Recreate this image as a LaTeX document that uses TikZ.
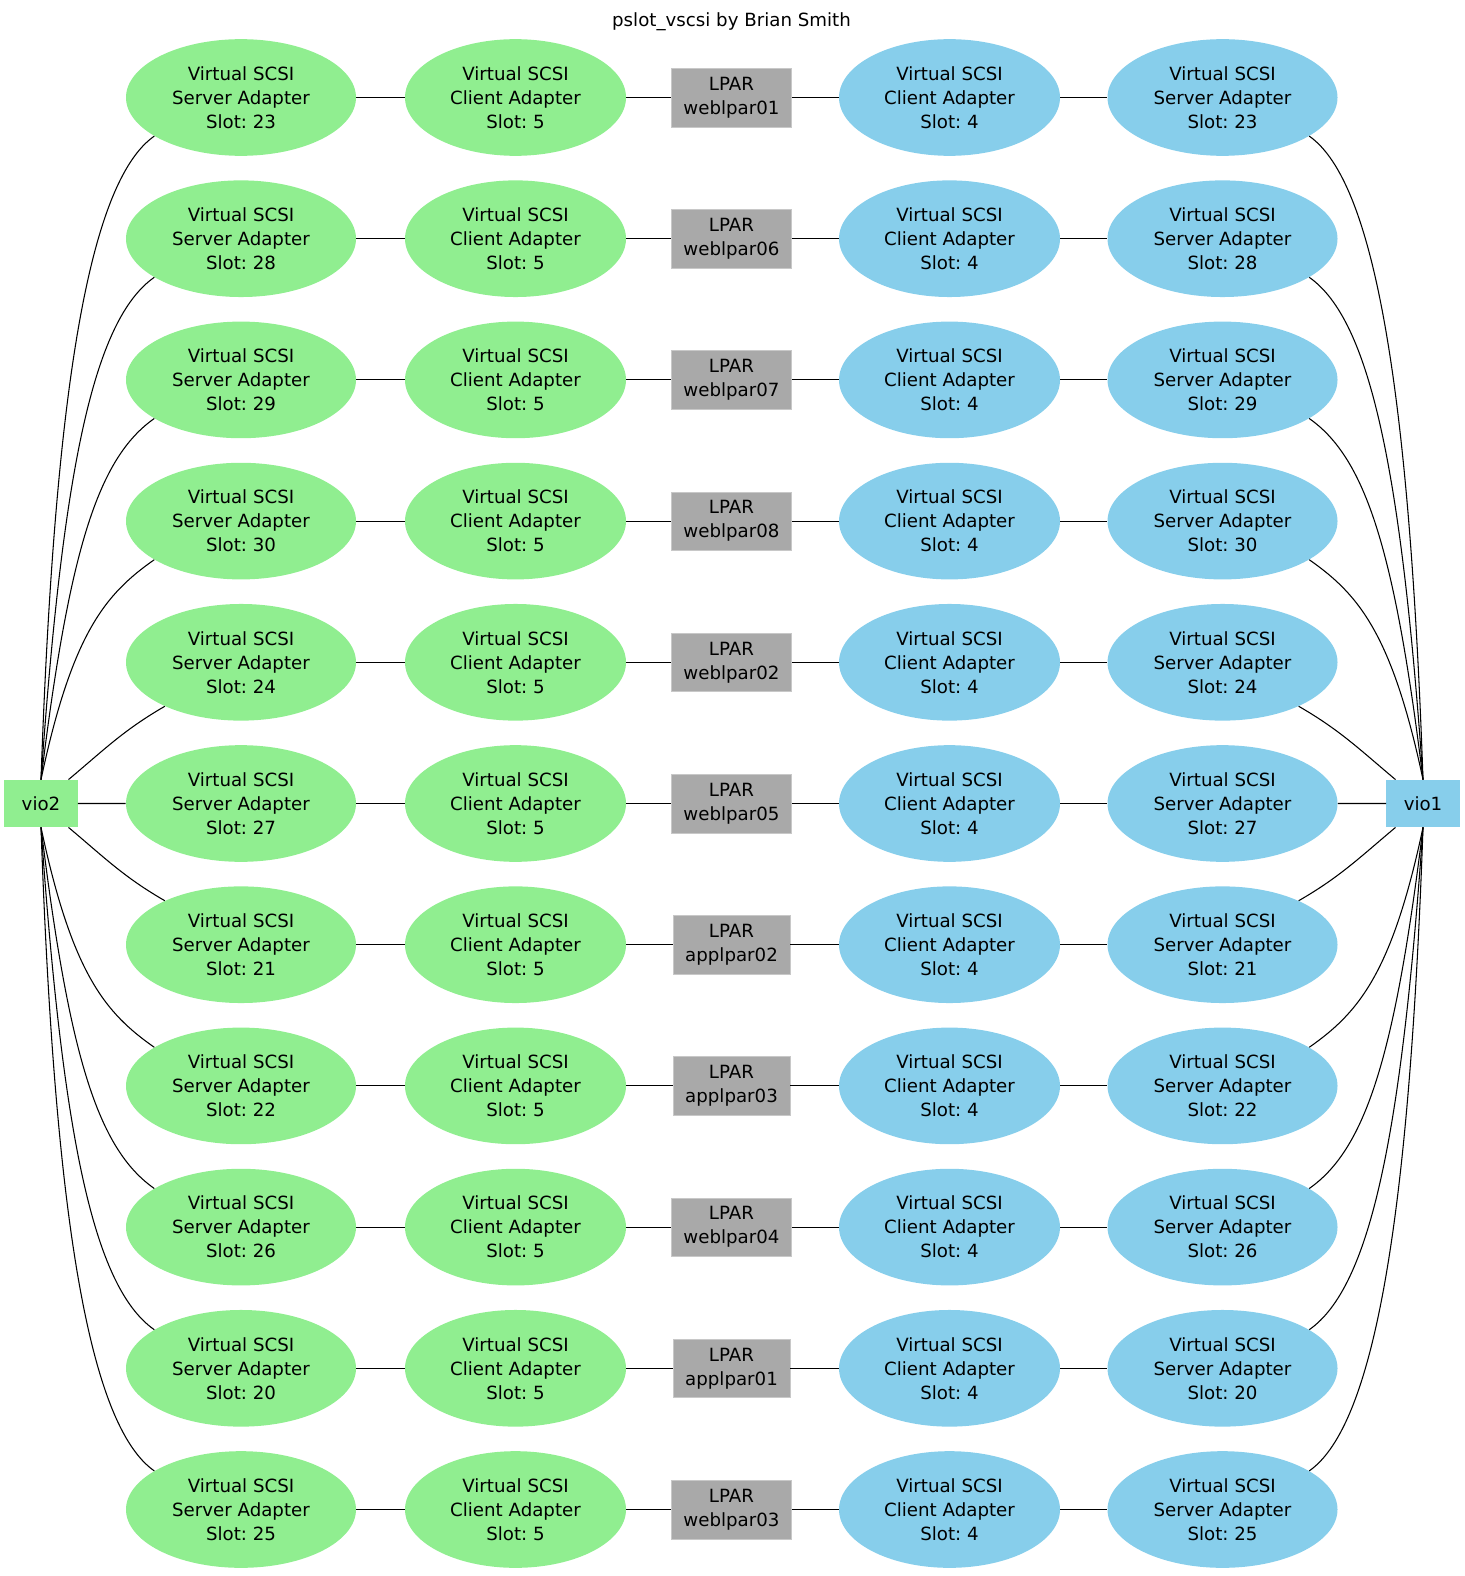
\documentclass[tikz,border=0pt]{standalone}
\usepackage{fontspec}
\setmainfont{DejaVu Sans}
\usetikzlibrary{shapes.geometric}
\definecolor{vgreen}{HTML}{90EE90}
\definecolor{vblue}{HTML}{87CEEB}
\definecolor{lpargray}{HTML}{A9A9A9}
\definecolor{lparline}{HTML}{C8C8C8}
\tikzset{
    gvfont/.style = {font=\fontsize{13.65}{18}\selectfont\frenchspacing},
    srvnode/.style = {ellipse, inner sep=0pt, minimum width=172.5pt, minimum height=87.5pt, align=center, gvfont},
    clinode/.style = {ellipse, inner sep=0pt, minimum width=165.75pt, minimum height=87.5pt, align=center, gvfont},
    srvnodeg/.style = {srvnode, fill=vgreen},
    srvnodeb/.style = {srvnode, fill=vblue},
    clinodeg/.style = {clinode, fill=vgreen},
    clinodeb/.style = {clinode, fill=vblue},
    lparnode/.style = {rectangle, fill=lpargray, draw=lparline, inner xsep=9pt, inner ysep=0pt, minimum height=44pt, align=center, gvfont},
    vionode/.style = {rectangle, inner sep=0pt, minimum width=55pt, minimum height=35.5pt, gvfont},
    vionodeg/.style = {vionode, fill=vgreen},
    vionodeb/.style = {vionode, fill=vblue},
    edgen/.style = {line width=0.8pt, black}
}
\begin{document}
\begin{tikzpicture}[x=0.75pt, y=0.75pt]
\useasboundingbox (0,0) rectangle (1464,-1576);
%
\node[gvfont] (title) at (731.5,-21.5) {pslot\_vscsi by Brian Smith};
\node[vionodeg] (vio2) at (41,-803.5) {vio2};
\node[vionodeb] (vio1) at (1423,-803.5) {vio1};
%
\foreach \i/\sl/\lp in {1/23/weblpar01, 2/28/weblpar06, 3/29/weblpar07, 4/30/weblpar08,
    5/24/weblpar02, 6/27/weblpar05, 7/21/applpar02, 8/22/applpar03,
    9/26/weblpar04, 10/20/applpar01, 11/25/weblpar03} {
  \pgfmathsetmacro{\y}{-97.5-141.2*(\i-1)}
  \node[srvnodeg] (sg\i) at (241,\y) {Virtual SCSI\\Server Adapter\\Slot: \sl};
  \node[clinodeg] (cg\i) at (515.5,\y) {Virtual SCSI\\Client Adapter\\Slot: 5};
  \node[lparnode] (lp\i) at (731.5,\y) {LPAR\\\lp};
  \node[clinodeb] (cb\i) at (949.5,\y) {Virtual SCSI\\Client Adapter\\Slot: 4};
  \node[srvnodeb] (sb\i) at (1222.5,\y) {Virtual SCSI\\Server Adapter\\Slot: \sl};
  \draw[edgen] (sg\i) -- (cg\i) (cg\i) -- (lp\i) (lp\i) -- (cb\i) (cb\i) -- (sb\i);
}
%
% vio links, upper rows
\foreach \i/\oa/\od/\id in {1/88/292/60, 2/86/232/56, 3/83/172/52, 4/78/112/45} {
  \pgfmathsetmacro{\ob}{180-\oa}
  \draw[edgen] (vio2.north) to[out=\oa, in=215, out distance=\od pt, in distance=\id pt] (sg\i.204);
  \draw[edgen] (vio1.north) to[out=\ob, in=-35, out distance=\od pt, in distance=\id pt] (sb\i.336);
}
% vio links, lower rows
\foreach \i/\oa/\od/\id in {11/88/292/60, 10/86/232/56, 9/83/172/52, 8/78/112/45} {
  \pgfmathsetmacro{\oc}{-\oa}
  \pgfmathsetmacro{\ob}{180+\oa}
  \draw[edgen] (vio2.south) to[out=\oc, in=145, out distance=\od pt, in distance=\id pt] (sg\i.156);
  \draw[edgen] (vio1.south) to[out=\ob, in=35, out distance=\od pt, in distance=\id pt] (sb\i.24);
}
% middle rows
\draw[edgen] (vio2.41) to[out=40, in=210] (sg5.210);
\draw[edgen] (vio2) -- (sg6);
\draw[edgen] (vio2.-41) to[out=-40, in=150] (sg7.150);
\draw[edgen] (vio1.139) to[out=140, in=-30] (sb5.330);
\draw[edgen] (vio1) -- (sb6);
\draw[edgen] (vio1.221) to[out=220, in=30] (sb7.30);

\end{tikzpicture}
\end{document}
